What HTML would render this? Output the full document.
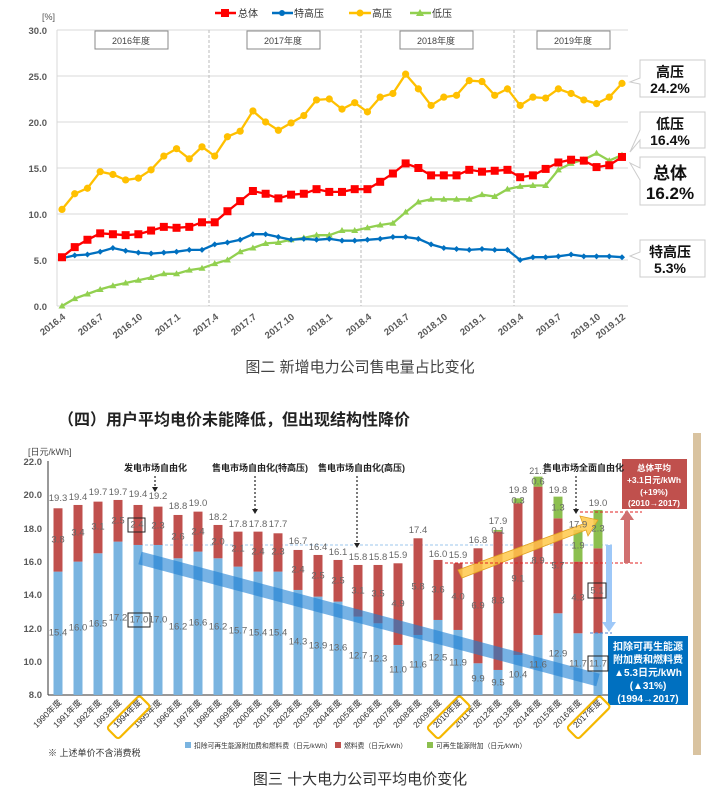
<!DOCTYPE html>
<html><head><meta charset="utf-8"><style>
html,body{margin:0;padding:0;background:#fff;}
svg{display:block;font-family:"Liberation Sans","Noto Sans CJK SC",sans-serif;}
.tk{font-size:9.5px;fill:#595959;font-weight:bold;}
.bl{font-size:9.5px;fill:#666;}
.an{font-size:9px;fill:#222;font-weight:bold;}
</style></head><body>
<svg id="s" width="718" height="799" viewBox="0 0 718 799" xmlns="http://www.w3.org/2000/svg">
<rect width="718" height="799" fill="#fff"/>
<g id="topgrid" stroke="#d9d9d9" stroke-width="1">
<line x1="57" y1="30" x2="628" y2="30"/><line x1="57" y1="76" x2="628" y2="76"/><line x1="57" y1="122" x2="628" y2="122"/><line x1="57" y1="168" x2="628" y2="168"/><line x1="57" y1="214" x2="628" y2="214"/><line x1="57" y1="260" x2="628" y2="260"/><line x1="57" y1="306" x2="628" y2="306"/>
<line x1="57" y1="30" x2="57" y2="306"/>
</g>
<g stroke="#bbb" stroke-dasharray="3,2"><line x1="209" y1="30" x2="209" y2="306"/><line x1="361" y1="30" x2="361" y2="306"/><line x1="514" y1="30" x2="514" y2="306"/></g>
<g fill="#fff" stroke="#888"><rect x="95" y="31" width="73" height="18"/><rect x="247" y="31" width="73" height="18"/><rect x="400" y="31" width="73" height="18"/><rect x="537" y="31" width="73" height="18"/></g>
<g font-size="9" fill="#444" text-anchor="middle"><text x="131" y="44">2016年度</text><text x="283" y="44">2017年度</text><text x="436" y="44">2018年度</text><text x="573" y="44">2019年度</text></g>
<g class="tk" text-anchor="end"><text x="47" y="34">30.0</text><text x="47" y="80">25.0</text><text x="47" y="126">20.0</text><text x="47" y="172">15.0</text><text x="47" y="218">10.0</text><text x="47" y="264">5.0</text><text x="47" y="310">0.0</text></g>
<text x="42" y="20" font-size="9" fill="#555">[%]</text>
<g id="toplines"></g>
<g font-size="10" fill="#333">
<line x1="215" y1="13" x2="236" y2="13" stroke="#f00" stroke-width="2.5"/><rect x="221" y="9" width="8" height="8" fill="#f00"/><text x="238" y="17">总体</text>
<line x1="272" y1="13" x2="293" y2="13" stroke="#0070c0" stroke-width="2.5"/><circle cx="282" cy="13" r="3" fill="#0070c0"/><text x="294" y="17">特高压</text>
<line x1="349" y1="13" x2="371" y2="13" stroke="#ffc000" stroke-width="2.5"/><circle cx="360" cy="13" r="3.5" fill="#ffc000"/><text x="372" y="17">高压</text>
<line x1="410" y1="13" x2="431" y2="13" stroke="#92d050" stroke-width="2.5"/><path d="M420 9 L424 16 L416 16Z" fill="#92d050"/><text x="432" y="17">低压</text>
</g>
<g class="tk" font-size="10">
<text transform="translate(66,318) rotate(-38)" text-anchor="end">2016.4</text>
<text transform="translate(104,318) rotate(-38)" text-anchor="end">2016.7</text>
<text transform="translate(143,318) rotate(-38)" text-anchor="end">2016.10</text>
<text transform="translate(181,318) rotate(-38)" text-anchor="end">2017.1</text>
<text transform="translate(219,318) rotate(-38)" text-anchor="end">2017.4</text>
<text transform="translate(257,318) rotate(-38)" text-anchor="end">2017.7</text>
<text transform="translate(295,318) rotate(-38)" text-anchor="end">2017.10</text>
<text transform="translate(333,318) rotate(-38)" text-anchor="end">2018.1</text>
<text transform="translate(372,318) rotate(-38)" text-anchor="end">2018.4</text>
<text transform="translate(410,318) rotate(-38)" text-anchor="end">2018.7</text>
<text transform="translate(448,318) rotate(-38)" text-anchor="end">2018.10</text>
<text transform="translate(486,318) rotate(-38)" text-anchor="end">2019.1</text>
<text transform="translate(524,318) rotate(-38)" text-anchor="end">2019.4</text>
<text transform="translate(562,318) rotate(-38)" text-anchor="end">2019.7</text>
<text transform="translate(601,318) rotate(-38)" text-anchor="end">2019.10</text>
<text transform="translate(626,318) rotate(-38)" text-anchor="end">2019.12</text>
</g>
<g fill="#fff" stroke="#ccc">
<path d="M640 60 H705 V97 H640 V84 L630 82 L640 78 Z"/>
<path d="M640 112 H705 V148 H640 V140 L630 152 L640 130 Z"/>
<path d="M640 157 H705 V205 H640 V180 L630 163 L640 168 Z"/>
<path d="M640 240 H705 V277 H640 V260 L630 256 L640 252 Z"/>
</g>
<g text-anchor="middle" fill="#111" font-weight="bold">
<text x="670" y="77" font-size="14">高压</text><text x="670" y="93" font-size="14">24.2%</text>
<text x="670" y="129" font-size="14">低压</text><text x="670" y="145" font-size="14">16.4%</text>
<text x="670" y="179" font-size="17">总体</text><text x="670" y="199" font-size="17">16.2%</text>
<text x="670" y="257" font-size="14">特高压</text><text x="670" y="273" font-size="14">5.3%</text>
</g>
<text x="360" y="372" font-size="15" fill="#444" text-anchor="middle">图二  新增电力公司售电量占比变化</text>
<text x="58" y="425" font-size="16" fill="#222" font-weight="bold">（四）用户平均电价未能降低，但出现结构性降价</text>

<rect x="693" y="433" width="8" height="322" fill="#d9c3a0"/>
<text x="28" y="455" font-size="9" fill="#444">[日元/kWh]</text>
<g class="tk" text-anchor="end" font-weight="normal" fill="#555"><text x="42" y="465">22.0</text><text x="42" y="498">20.0</text><text x="42" y="532">18.0</text><text x="42" y="565">16.0</text><text x="42" y="598">14.0</text><text x="42" y="632">12.0</text><text x="42" y="665">10.0</text><text x="42" y="698">8.0</text></g>
<g stroke="#333" stroke-width="1"><line x1="48" y1="461" x2="48" y2="695"/><line x1="48" y1="695" x2="612" y2="695"/></g>
<line x1="140" y1="545" x2="612" y2="545" stroke="#9cc7ec" stroke-dasharray="3,2"/>
<g id="bars"></g>
<line x1="140" y1="558" x2="598" y2="680" stroke="#1a7fd4" stroke-opacity="0.6" stroke-width="13"/>
<path d="M458 570 L583 524 L580 516 L598 520 L588 536 L586 530 L462 578 Z" fill="#ffc94a" fill-opacity="0.85" stroke="#e0a020" stroke-width="0.8"/>
<g stroke="#e02020" stroke-dasharray="3,2"><line x1="580" y1="512" x2="642" y2="512"/><line x1="445" y1="563" x2="642" y2="563"/></g>
<line x1="590" y1="633" x2="612" y2="633" stroke="#4a7fd0" stroke-dasharray="3,2"/>
<path d="M624 563 V520 H620 L627 510 L634 520 H630 V563 Z" fill="#d07070"/>
<path d="M606 545 V622 H602 L609 632 L616 622 H612 V545 Z" fill="#9ec8f8"/>
<rect x="622" y="459" width="65" height="50" fill="#c0504d"/>
<g fill="#fff" font-size="8.5" text-anchor="middle" font-weight="bold"><text x="654" y="471">总体平均</text><text x="654" y="483">+3.1日元/kWh</text><text x="654" y="495">(+19%)</text><text x="654" y="506">(2010→2017)</text></g>
<rect x="608" y="636" width="80" height="69" fill="#0070c0"/>
<g fill="#fff" font-size="10" text-anchor="middle" font-weight="bold"><text x="648" y="650">扣除可再生能源</text><text x="648" y="663">附加费和燃料费</text><text x="648" y="676">▲5.3日元/kWh</text><text x="648" y="689">(▲31%)</text><text x="648" y="702">(1994→2017)</text></g>
<g class="an"><text x="124" y="471">发电市场自由化</text><text x="212" y="471">售电市场自由化(特高压)</text><text x="318" y="471">售电市场自由化(高压)</text><text x="543" y="471">售电市场全面自由化</text></g>
<g stroke="#222" stroke-dasharray="2,2" stroke-width="1.2"><line x1="155" y1="476" x2="155" y2="487"/><line x1="255" y1="476" x2="255" y2="509"/><line x1="357" y1="476" x2="357" y2="543"/><line x1="576" y1="476" x2="576" y2="509"/></g>
<g fill="#222"><path d="M152 487 L158 487 L155 492Z"/><path d="M252 509 L258 509 L255 514Z"/><path d="M354 543 L360 543 L357 548Z"/><path d="M573 509 L579 509 L576 514Z"/></g>
<g fill="none" stroke="#222"><rect x="128" y="518" width="17" height="14"/><rect x="128" y="613" width="22" height="14"/><rect x="588" y="583" width="18" height="15"/><rect x="588" y="656" width="20" height="15"/></g>
<g class="bl" text-anchor="middle">
<text x="58" y="501">19.3</text><text x="78" y="500">19.4</text><text x="98" y="495">19.7</text><text x="118" y="495">19.7</text><text x="138" y="497">19.4</text><text x="158" y="499">19.2</text><text x="178" y="509">18.8</text><text x="198" y="506">19.0</text><text x="218" y="520">18.2</text><text x="238" y="527">17.8</text><text x="258" y="527">17.8</text><text x="278" y="527">17.7</text><text x="298" y="544">16.7</text><text x="318" y="550">16.4</text><text x="338" y="555">16.1</text><text x="358" y="560">15.8</text><text x="378" y="560">15.8</text><text x="398" y="558">15.9</text><text x="418" y="533">17.4</text><text x="438" y="557">16.0</text><text x="458" y="558">15.9</text><text x="478" y="543">16.8</text><text x="498" y="524">17.9</text><text x="518" y="493">19.8</text><text x="538" y="474" font-size="9">21.1</text><text x="558" y="493">19.8</text><text x="598" y="506">19.0</text>
</g>
<g class="bl" text-anchor="middle" dominant-baseline="central">
<text x="58" y="540">3.8</text><text x="78" y="533">3.4</text><text x="98" y="527">3.1</text><text x="118" y="521">2.5</text><text x="137" y="525">2.4</text><text x="158" y="526">2.3</text><text x="178" y="537">2.6</text><text x="198" y="532">2.4</text><text x="218" y="542">2.0</text><text x="238" y="549">2.1</text><text x="258" y="552">2.4</text><text x="278" y="552">2.3</text><text x="298" y="570">2.4</text><text x="318" y="576">2.5</text><text x="338" y="581">2.5</text><text x="358" y="591">3.1</text><text x="378" y="594">3.5</text><text x="398" y="604">4.9</text><text x="418" y="587">5.8</text><text x="438" y="590">3.6</text><text x="458" y="597">4.0</text><text x="478" y="606">6.9</text><text x="498" y="601">8.3</text><text x="518" y="579">9.1</text><text x="538" y="561">8.9</text><text x="558" y="566">5.7</text><text x="578" y="598">4.3</text><text x="597" y="591">5.1</text>
<text x="498" y="531">0.1</text><text x="518" y="501">0.3</text><text x="538" y="482">0.6</text><text x="558" y="508">1.3</text><text x="578" y="546">1.9</text><text x="578" y="525">17.9</text><text x="598" y="529">2.3</text>
<text x="58" y="633">15.4</text><text x="78" y="628">16.0</text><text x="98" y="624">16.5</text><text x="118" y="618">17.2</text><text x="139" y="620">17.0</text><text x="158" y="620">17.0</text><text x="178" y="627">16.2</text><text x="198" y="623">16.6</text><text x="218" y="627">16.2</text><text x="238" y="631">15.7</text><text x="258" y="633">15.4</text><text x="278" y="633">15.4</text><text x="298" y="642">14.3</text><text x="318" y="646">13.9</text><text x="338" y="648">13.6</text><text x="358" y="656">12.7</text><text x="378" y="659">12.3</text><text x="398" y="670">11.0</text><text x="418" y="665">11.6</text><text x="438" y="658">12.5</text><text x="458" y="663">11.9</text><text x="478" y="679">9.9</text><text x="498" y="683">9.5</text><text x="518" y="675">10.4</text><text x="538" y="665">11.6</text><text x="558" y="654">12.9</text><text x="578" y="664">11.7</text><text x="598" y="664">11.7</text>
</g>
<g font-size="8.5" fill="#333" text-anchor="end">
<text transform="translate(62,703) rotate(-45)">1990年度</text><text transform="translate(82,703) rotate(-45)">1991年度</text><text transform="translate(102,703) rotate(-45)">1992年度</text><text transform="translate(122,703) rotate(-45)">1993年度</text><text transform="translate(142,703) rotate(-45)">1994年度</text><text transform="translate(162,703) rotate(-45)">1995年度</text><text transform="translate(182,703) rotate(-45)">1996年度</text><text transform="translate(202,703) rotate(-45)">1997年度</text><text transform="translate(222,703) rotate(-45)">1998年度</text><text transform="translate(242,703) rotate(-45)">1999年度</text><text transform="translate(262,703) rotate(-45)">2000年度</text><text transform="translate(282,703) rotate(-45)">2001年度</text><text transform="translate(302,703) rotate(-45)">2002年度</text><text transform="translate(322,703) rotate(-45)">2003年度</text><text transform="translate(342,703) rotate(-45)">2004年度</text><text transform="translate(362,703) rotate(-45)">2005年度</text><text transform="translate(382,703) rotate(-45)">2006年度</text><text transform="translate(402,703) rotate(-45)">2007年度</text><text transform="translate(422,703) rotate(-45)">2008年度</text><text transform="translate(442,703) rotate(-45)">2009年度</text><text transform="translate(462,703) rotate(-45)">2010年度</text><text transform="translate(482,703) rotate(-45)">2011年度</text><text transform="translate(502,703) rotate(-45)">2012年度</text><text transform="translate(522,703) rotate(-45)">2013年度</text><text transform="translate(542,703) rotate(-45)">2014年度</text><text transform="translate(562,703) rotate(-45)">2015年度</text><text transform="translate(582,703) rotate(-45)">2016年度</text><text transform="translate(602,703) rotate(-45)">2017年度</text>
</g>
<g fill="none" stroke="#f5b800" stroke-width="2.2">
<rect x="-22" y="-8" width="46" height="16" rx="3" transform="translate(128,718) rotate(-45)"/>
<rect x="-22" y="-8" width="46" height="16" rx="3" transform="translate(448,718) rotate(-45)"/>
<rect x="-22" y="-8" width="46" height="16" rx="3" transform="translate(588,718) rotate(-45)"/>
</g>
<text x="48" y="756" font-size="9" fill="#333">※ 上述单价不含消费税</text>
<g font-size="6.8" fill="#333"><rect x="185" y="742" width="6" height="6" fill="#7ab4e0"/><text x="194" y="748">扣除可再生能源附加费和燃料费（日元/kWh）</text><rect x="335" y="742" width="6" height="6" fill="#c0504d"/><text x="344" y="748">燃料费（日元/kWh）</text><rect x="427" y="742" width="6" height="6" fill="#8cbf4f"/><text x="436" y="748">可再生能源附加（日元/kWh）</text></g>
<text x="360" y="784" font-size="15" fill="#333" text-anchor="middle">图三 十大电力公司平均电价变化</text>
</svg>
<script>
(function(){
var NS="http://www.w3.org/2000/svg";
function el(p,t,a){var e=document.createElementNS(NS,t);for(var k in a)e.setAttribute(k,a[k]);p.appendChild(e);return e;}
var Y=[10.5,12.2,12.8,14.6,14.3,13.7,13.9,14.8,16.3,17.1,16.0,17.3,16.3,18.4,19.0,21.2,20.0,19.1,19.9,20.7,22.4,22.5,21.4,22.1,21.1,22.7,23.1,25.2,23.6,21.8,22.7,22.9,24.5,24.4,22.9,23.6,21.8,22.7,22.6,23.6,23.1,22.4,22.0,22.7,24.2];
var R=[5.3,6.4,7.2,7.9,7.8,7.7,7.8,8.2,8.6,8.5,8.6,9.1,9.1,10.3,11.4,12.5,12.2,11.7,12.1,12.2,12.7,12.4,12.4,12.7,12.7,13.5,14.4,15.5,15.0,14.2,14.2,14.2,14.8,14.6,14.7,14.8,14.0,14.2,14.9,15.6,15.9,15.8,15.1,15.3,16.2];
var B=[5.2,5.5,5.6,5.9,6.3,6.0,5.8,5.7,5.8,5.9,6.1,6.1,6.7,6.9,7.2,7.8,7.8,7.5,7.2,7.3,7.2,7.3,7.1,7.1,7.2,7.3,7.5,7.5,7.3,6.7,6.3,6.2,6.1,6.2,6.1,6.1,5.0,5.3,5.3,5.4,5.6,5.4,5.4,5.4,5.3];
var G=[0,0.8,1.3,1.8,2.2,2.5,2.8,3.1,3.5,3.5,3.9,4.1,4.6,5.0,5.9,6.3,6.8,6.9,7.2,7.4,7.7,7.7,8.2,8.2,8.5,8.8,9.0,10.2,11.3,11.6,11.6,11.6,11.6,12.1,11.9,12.7,13.0,13.1,13.1,14.8,15.5,15.9,16.6,15.8,16.4];
var g=document.getElementById("toplines");
function X(i){return 62+i*12.727;} function V(v){return 306-9.2*v;}
function line(d,c,m){var p=d.map(function(v,i){return X(i).toFixed(1)+","+V(v).toFixed(1)}).join(" ");
el(g,"polyline",{points:p,fill:"none",stroke:c,"stroke-width":2.3});
d.forEach(function(v,i){var x=X(i),y=V(v);
if(m=="sq")el(g,"rect",{x:x-4,y:y-4,width:8,height:8,fill:c});
else if(m=="c")el(g,"circle",{cx:x,cy:y,r:3.6,fill:c});
else if(m=="d")el(g,"path",{d:"M"+x+" "+(y-3)+"L"+(x+3)+" "+y+"L"+x+" "+(y+3)+"L"+(x-3)+" "+y+"Z",fill:c});
else el(g,"path",{d:"M"+x+" "+(y-3.5)+"L"+(x+3.5)+" "+(y+2.5)+"L"+(x-3.5)+" "+(y+2.5)+"Z",fill:c});});}
line(G,"#92d050","t");line(B,"#0070c0","d");line(Y,"#ffc000","c");line(R,"#ff0000","sq");
var bars=[[15.4,3.8,0],[16,3.4,0],[16.5,3.1,0],[17.2,2.5,0],[17,2.4,0],[17,2.3,0],[16.2,2.6,0],[16.6,2.4,0],[16.2,2,0],[15.7,2.1,0],[15.4,2.4,0],[15.4,2.3,0],[14.3,2.4,0],[13.9,2.5,0],[13.6,2.5,0],[12.7,3.1,0],[12.3,3.5,0],[11,4.9,0],[11.6,5.8,0],[12.5,3.6,0],[11.9,4,0],[9.9,6.9,0],[9.5,8.3,0.1],[10.4,9.1,0.3],[11.6,8.9,0.6],[12.9,5.7,1.3],[11.7,4.3,1.9],[11.7,5.1,2.3]];
var bg=document.getElementById("bars");
function F(v){return 828.3-16.667*v;}
bars.forEach(function(b,i){var x=58+20*i-4.5;
el(bg,"rect",{x:x,y:F(b[0]),width:9,height:F(8)-F(b[0]),fill:"#7ab4e0"});
el(bg,"rect",{x:x,y:F(b[0]+b[1]),width:9,height:F(b[0])-F(b[0]+b[1]),fill:"#c0504d"});
if(b[2])el(bg,"rect",{x:x,y:F(b[0]+b[1]+b[2]),width:9,height:F(b[0]+b[1])-F(b[0]+b[1]+b[2]),fill:"#8cbf4f"});});
})();
</script>
</body></html>
